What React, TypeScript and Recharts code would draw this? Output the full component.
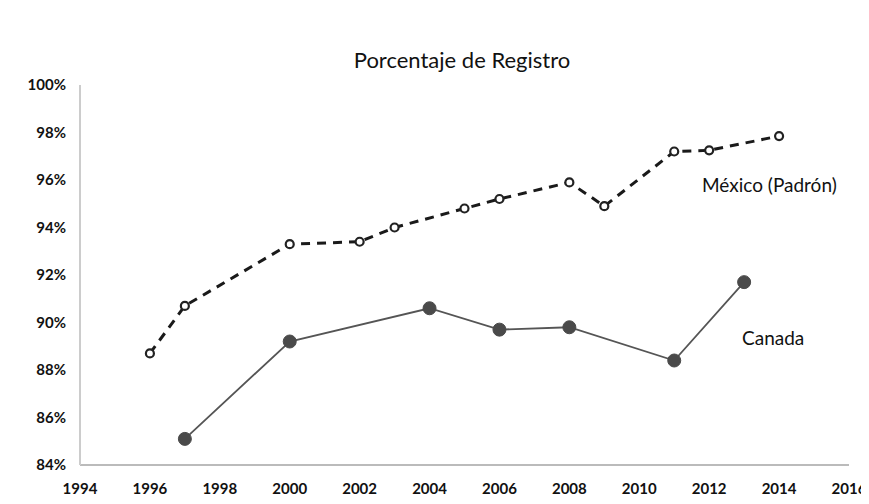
import React from "react";
import { LineChart, Line, XAxis, YAxis } from "recharts";

const mexicoYears = [1996, 1997, 2000, 2002, 2003, 2005, 2006, 2008, 2009, 2011, 2012, 2014];
const mexicoValues = [88.7, 90.7, 93.3, 93.4, 94.0, 94.8, 95.2, 95.9, 94.9, 97.2, 97.25, 97.85];
const canadaYears = [1997, 2000, 2004, 2006, 2008, 2011, 2013];
const canadaValues = [85.1, 89.2, 90.6, 89.7, 89.8, 88.4, 91.7];
const xTicks = [1994, 1996, 1998, 2000, 2002, 2004, 2006, 2008, 2010, 2012, 2014, 2016];
const yTicks = [84, 86, 88, 90, 92, 94, 96, 98, 100];
const title = "Porcentaje de Registro";
const mexicoLabel = "México (Padrón)";
const canadaLabel = "Canada";

const mexicoData = mexicoYears.map((year, i) => ({ year, value: mexicoValues[i] }));
const canadaData = canadaYears.map((year, i) => ({ year, value: canadaValues[i] }));

const FONT = "Lato, 'Open Sans', sans-serif";

export default function App() {
  return (
    <div style={{ position: "relative", width: 861, height: 488, fontFamily: FONT, background: "#fff", overflow: "hidden" }}>
      <div
        style={{
          position: "absolute",
          left: 254,
          width: 400,
          top: 38,
          textAlign: "center",
          fontSize: 22,
          color: "#111",
          fontFamily: FONT,
        }}
      >
        {title}
      </div>
      <LineChart
        width={861}
        height={488}
        margin={{ top: 77, right: 20, bottom: 1, left: 0 }}
      >
        <XAxis
          dataKey="year"
          type="number"
          domain={[1994, 2016]}
          ticks={xTicks}
          allowDuplicatedCategory={false}
          tickLine={false}
          tickMargin={12}
          height={30}
          interval={0}
          axisLine={{ stroke: "#bbb", strokeWidth: 2 }}
          tick={{ fill: "#111", fontSize: 15, fontWeight: 700, fontFamily: FONT }}
        />
        <YAxis
          type="number"
          domain={[84, 100]}
          ticks={yTicks}
          width={72}
          tickLine={false}
          tickMargin={8}
          interval={0}
          axisLine={{ stroke: "#ccc", strokeWidth: 2 }}
          tickFormatter={(v) => `${v}%`}
          tick={{ fill: "#111", fontSize: 15, fontWeight: 700, fontFamily: FONT }}
        />
        <Line
          data={mexicoData}
          dataKey="value"
          type="linear"
          stroke="#1a1a1a"
          strokeWidth={3}
          strokeDasharray="9 7"
          dot={{ r: 4, fill: "#fff", stroke: "#222", strokeWidth: 2.2, strokeDasharray: "0" }}
          isAnimationActive={false}
        />
        <Line
          data={canadaData}
          dataKey="value"
          type="linear"
          stroke="#555"
          strokeWidth={1.8}
          dot={{ r: 6.5, fill: "#4a4a4a", stroke: "#4a4a4a", strokeWidth: 1 }}
          isAnimationActive={false}
        />
      </LineChart>
      <div style={{ position: "absolute", left: 694, top: 165, fontSize: 19, color: "#111", fontFamily: FONT, whiteSpace: "nowrap" }}>
        {mexicoLabel}
      </div>
      <div style={{ position: "absolute", left: 734, top: 318, fontSize: 19, color: "#111", fontFamily: FONT, whiteSpace: "nowrap" }}>
        {canadaLabel}
      </div>
    </div>
  );
}
